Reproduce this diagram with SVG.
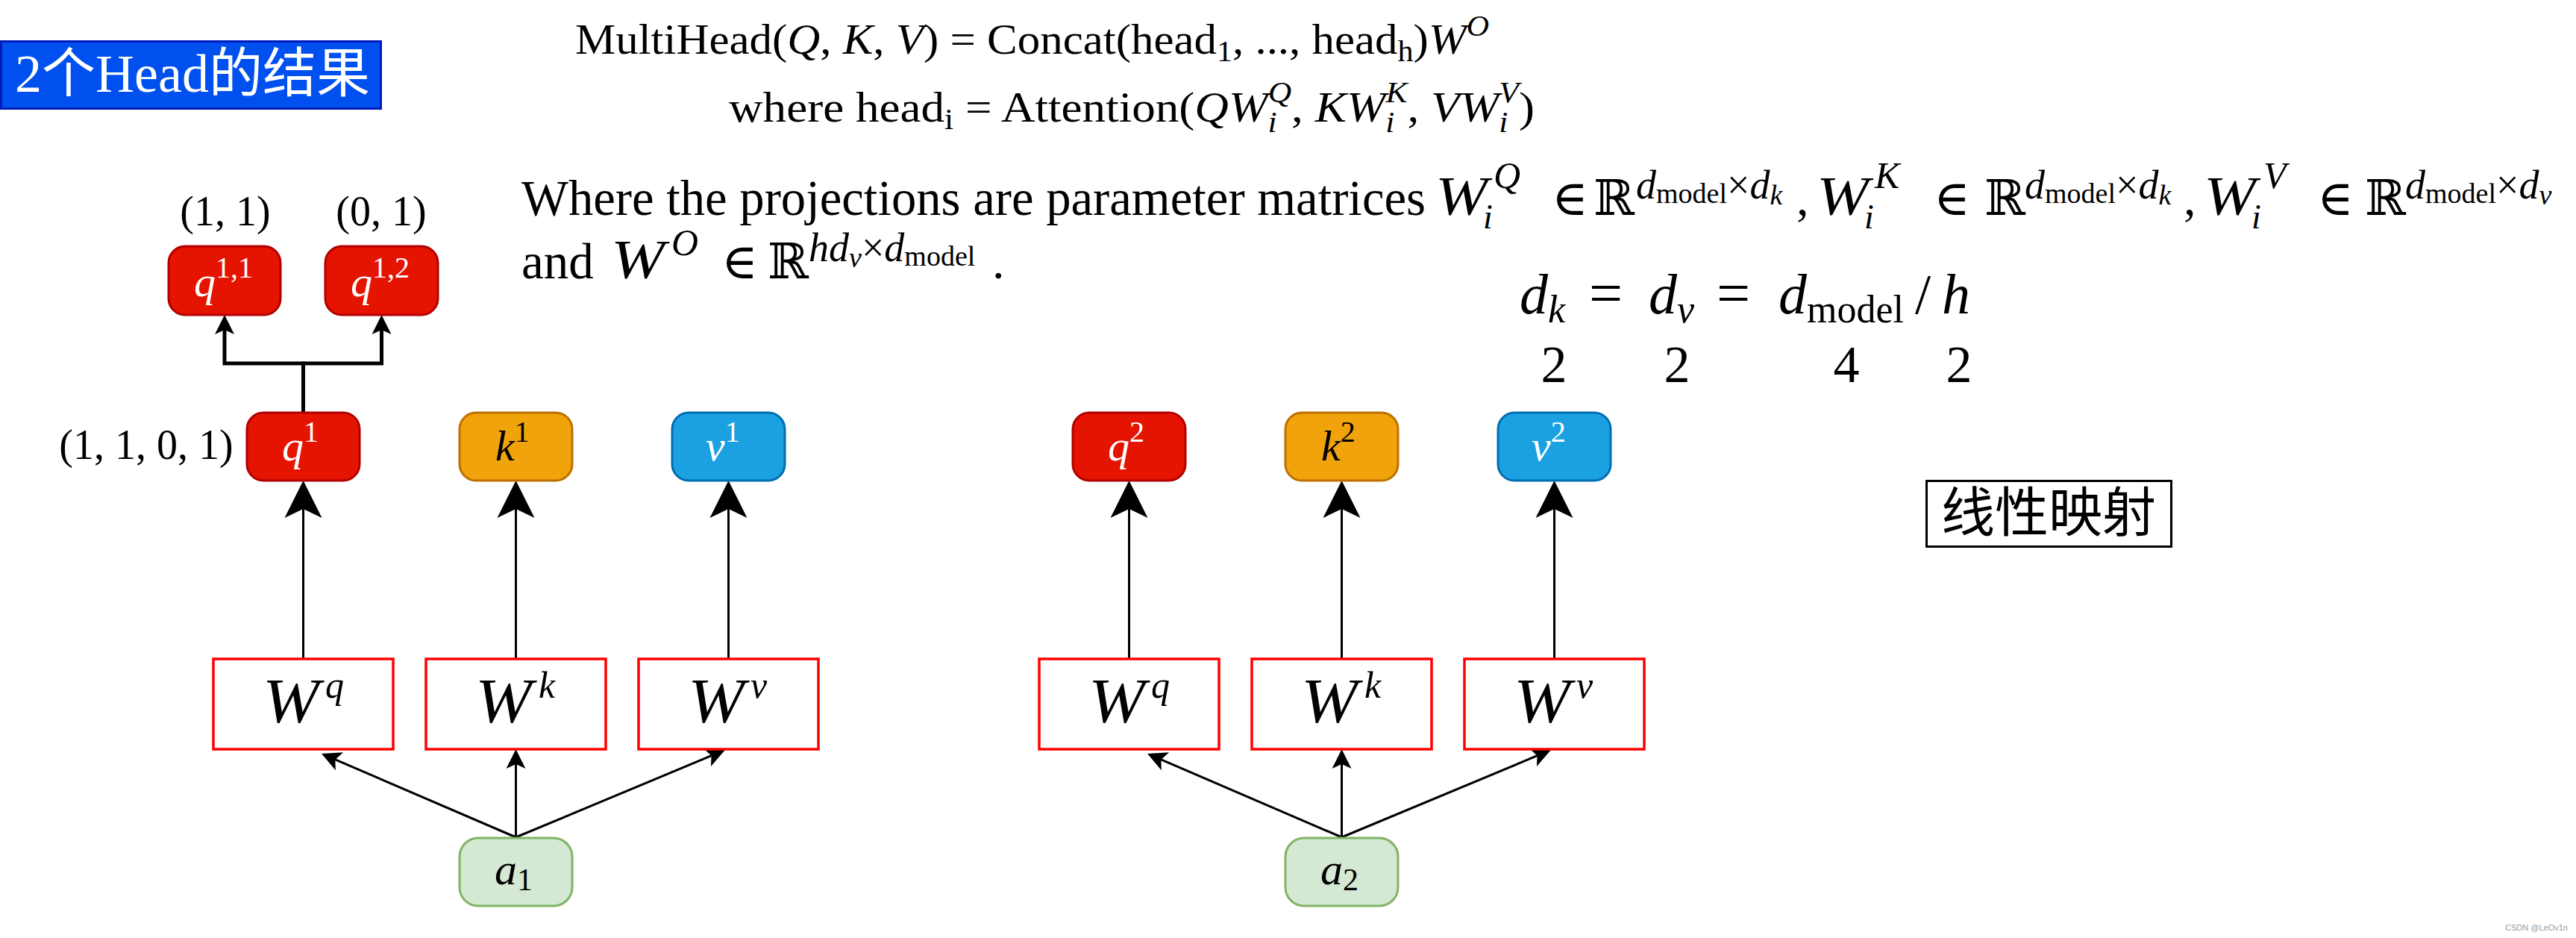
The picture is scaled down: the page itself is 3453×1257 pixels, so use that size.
<svg xmlns="http://www.w3.org/2000/svg" width="3453" height="1257" viewBox="0 0 3453 1257">
<defs>
<style>
.m{font-family:"Liberation Serif","DejaVu Serif",serif;fill:#000}
.it{font-style:italic}
.nq rect{fill:#e51400;stroke:#b20000;stroke-width:3}
.nk rect{fill:#f0a30a;stroke:#bd7000;stroke-width:3}
.nv rect{fill:#1ba1e2;stroke:#006eaf;stroke-width:3}
.na rect{fill:#d5e8d4;stroke:#82b366;stroke-width:3}
.nw rect{fill:#fff;stroke:#ff0000;stroke-width:3.5}
.nw text{font-style:italic}
.wt{fill:#fff}
.e{fill:none;stroke:#000;stroke-width:3}
.eb{fill:none;stroke:#000;stroke-width:5}
.big{marker-end:url(#big)}
.sm{marker-end:url(#small)}
</style>
<marker id="big" markerUnits="userSpaceOnUse" viewBox="-52 -27 54 54" markerWidth="54" markerHeight="54" refX="-38" refY="0" orient="auto"><path d="M0,0 L-50,-25 L-38,0 L-50,25 Z" fill="#000"/></marker>
<marker id="small" markerUnits="userSpaceOnUse" viewBox="-28 -15 30 30" markerWidth="30" markerHeight="30" refX="-20" refY="0" orient="auto"><path d="M0,0 L-26,-13 L-20,0 L-26,13 Z" fill="#000"/></marker>
</defs>
<rect x="0" y="0" width="3453" height="1257" fill="#fff"/>

<g id="title">
<rect x="1.5" y="55.5" width="509" height="90" fill="#0050ef" stroke="#001dbc" stroke-width="3"/>
<text x="20" y="123" font-size="72" fill="#fff" font-family="'Liberation Serif','Noto Sans CJK SC',serif">2个Head的结果</text>
</g>

<g id="formulas" class="m">
<text x="771" y="72" font-size="58" textLength="1225" lengthAdjust="spacingAndGlyphs">MultiHead(<tspan class="it">Q</tspan>, <tspan class="it">K</tspan>, <tspan class="it">V</tspan>) = Concat(head<tspan font-size="40" dy="10">1</tspan><tspan dy="-10">, ..., head</tspan><tspan font-size="40" dy="10">h</tspan><tspan dy="-10">)</tspan><tspan class="it">W</tspan><tspan class="it" font-size="40" dy="-24">O</tspan></text>
<text x="977" y="163" font-size="58" textLength="1080" lengthAdjust="spacingAndGlyphs">where head<tspan font-size="40" dy="10">i</tspan><tspan dy="-10"> = Attention(</tspan><tspan class="it">QW</tspan><tspan class="it" font-size="40" dy="14">i</tspan><tspan class="it" font-size="40" dx="-11" dy="-40">Q</tspan><tspan dy="26">, </tspan><tspan class="it">KW</tspan><tspan class="it" font-size="40" dy="14">i</tspan><tspan class="it" font-size="40" dx="-11" dy="-40">K</tspan><tspan dy="26">, </tspan><tspan class="it">VW</tspan><tspan class="it" font-size="40" dy="14">i</tspan><tspan class="it" font-size="40" dx="-11" dy="-40">V</tspan><tspan dy="26">)</tspan></text>

<text x="699" y="288" font-size="67" textLength="1212" lengthAdjust="spacingAndGlyphs">Where the projections are parameter matrices</text>
<text x="1924" y="288" font-size="74" class="it" textLength="70" lengthAdjust="spacingAndGlyphs">W</text>
<text x="1988" y="306" font-size="46" class="it">i</text>
<text x="2002" y="252" font-size="50" class="it">Q</text>
<text x="2080" y="288" font-size="66">∈</text>
<text x="2136" y="288" font-size="66">ℝ</text>
<text x="2193" y="266" font-size="54"><tspan class="it">d</tspan><tspan font-size="38" dy="6">model</tspan><tspan dy="-6">×</tspan><tspan class="it">d</tspan><tspan class="it" font-size="38" dy="8">k</tspan></text>
<text x="2408" y="288" font-size="66">,</text>
<text x="2435" y="288" font-size="74" class="it" textLength="70" lengthAdjust="spacingAndGlyphs">W</text>
<text x="2499" y="306" font-size="46" class="it">i</text>
<text x="2513" y="252" font-size="50" class="it">K</text>
<text x="2592" y="288" font-size="66">∈</text>
<text x="2660" y="288" font-size="66">ℝ</text>
<text x="2714" y="266" font-size="54"><tspan class="it">d</tspan><tspan font-size="38" dy="6">model</tspan><tspan dy="-6">×</tspan><tspan class="it">d</tspan><tspan class="it" font-size="38" dy="8">k</tspan></text>
<text x="2927" y="288" font-size="66">,</text>
<text x="2954" y="288" font-size="74" class="it" textLength="70" lengthAdjust="spacingAndGlyphs">W</text>
<text x="3018" y="306" font-size="46" class="it">i</text>
<text x="3034" y="252" font-size="50" class="it">V</text>
<text x="3106" y="288" font-size="66">∈</text>
<text x="3170" y="288" font-size="66">ℝ</text>
<text x="3224" y="266" font-size="54"><tspan class="it">d</tspan><tspan font-size="38" dy="6">model</tspan><tspan dy="-6">×</tspan><tspan class="it">d</tspan><tspan class="it" font-size="38" dy="8">v</tspan></text>

<text x="699" y="373" font-size="67">and</text>
<text x="819" y="373" font-size="74" class="it" textLength="72" lengthAdjust="spacingAndGlyphs">W</text>
<text x="900" y="342" font-size="50" class="it">O</text>
<text x="967" y="373" font-size="66">∈</text>
<text x="1029" y="373" font-size="66">ℝ</text>
<text x="1084" y="350" font-size="54"><tspan class="it">hd</tspan><tspan class="it" font-size="38" dy="8">v</tspan><tspan dy="-8">×</tspan><tspan class="it">d</tspan><tspan font-size="38" dy="6">model</tspan></text>
<text x="1330" y="373" font-size="66">.</text>

<text x="2037" y="420" font-size="76"><tspan class="it">d</tspan><tspan class="it" font-size="52" dy="12">k</tspan></text>
<text x="2130" y="420" font-size="80">=</text>
<text x="2210" y="420" font-size="76"><tspan class="it">d</tspan><tspan class="it" font-size="52" dy="12">v</tspan></text>
<text x="2301" y="420" font-size="80">=</text>
<text x="2384" y="420" font-size="76"><tspan class="it">d</tspan><tspan font-size="52" dy="12">model</tspan></text>
<text x="2567" y="420" font-size="76">/</text>
<text x="2603" y="420" font-size="76" class="it">h</text>
<g font-size="70" text-anchor="middle">
<text x="2083" y="512">2</text>
<text x="2248" y="512">2</text>
<text x="2475" y="512">4</text>
<text x="2626" y="512">2</text>
</g>
</g>

<g id="linear-map">
<rect x="2582.5" y="644.5" width="328" height="88" fill="#fff" stroke="#000" stroke-width="3"/>
<text x="2746" y="712" font-size="72" text-anchor="middle" font-family="'Noto Sans CJK SC',sans-serif">线性映射</text>
</g>

<g id="connectors">
<line class="e big" x1="406.5" y1="883" x2="406.5" y2="682"/>
<line class="e big" x1="691.5" y1="883" x2="691.5" y2="682"/>
<line class="e big" x1="976.5" y1="883" x2="976.5" y2="682"/>
<path class="eb sm" d="M406.5,553 V487 H301 V442"/>
<path class="eb sm" d="M406.5,553 V487 H511.5 V442"/>
<line class="e sm" x1="691.5" y1="1122" x2="449.4" y2="1017.9"/>
<line class="e sm" x1="691.5" y1="1122" x2="691.5" y2="1024"/>
<line class="e sm" x1="691.5" y1="1122" x2="953.5" y2="1012.7"/>
<line class="e big" x1="1513.5" y1="883" x2="1513.5" y2="682"/>
<line class="e big" x1="1798.5" y1="883" x2="1798.5" y2="682"/>
<line class="e big" x1="2083.5" y1="883" x2="2083.5" y2="682"/>
<line class="e sm" x1="1798.5" y1="1122" x2="1556.4" y2="1017.9"/>
<line class="e sm" x1="1798.5" y1="1122" x2="1798.5" y2="1024"/>
<line class="e sm" x1="1798.5" y1="1122" x2="2060.5" y2="1012.7"/>
</g>

<g id="label-q11" class="m"><text x="302" y="302" font-size="56" text-anchor="middle">(1, 1)</text></g>
<g id="label-q12" class="m"><text x="511" y="302" font-size="56" text-anchor="middle">(0, 1)</text></g>
<g id="label-q1" class="m"><text x="196" y="615" font-size="56" text-anchor="middle">(1, 1, 0, 1)</text></g>

<g id="q11" class="nq"><rect x="226" y="330" width="150" height="92" rx="22"/><text class="m wt" x="260" y="397" font-size="58"><tspan class="it">q</tspan><tspan font-size="40" dy="-25">1,1</tspan></text></g>
<g id="q12" class="nq"><rect x="436" y="330" width="151" height="92" rx="22"/><text class="m wt" x="470" y="397" font-size="58"><tspan class="it">q</tspan><tspan font-size="40" dy="-25">1,2</tspan></text></g>

<g id="q1" class="nq"><rect x="331" y="553" width="151" height="91" rx="22"/><text class="m wt" x="378" y="617" font-size="58"><tspan class="it">q</tspan><tspan font-size="40" dy="-25">1</tspan></text></g>
<g id="k1" class="nk"><rect x="616" y="553" width="151" height="91" rx="22"/><text class="m" x="664" y="617" font-size="58"><tspan class="it">k</tspan><tspan font-size="40" dy="-25">1</tspan></text></g>
<g id="v1" class="nv"><rect x="901" y="553" width="151" height="91" rx="22"/><text class="m wt" x="946" y="617" font-size="58"><tspan class="it">v</tspan><tspan font-size="40" dy="-25">1</tspan></text></g>

<g id="wq1" class="nw"><rect x="286" y="883" width="241" height="121"/><text class="m" x="352" y="968" font-size="84" textLength="76" lengthAdjust="spacingAndGlyphs">W</text><text class="m" x="436" y="935" font-size="50">q</text></g>
<g id="wk1" class="nw"><rect x="571" y="883" width="241" height="121"/><text class="m" x="637" y="968" font-size="84" textLength="76" lengthAdjust="spacingAndGlyphs">W</text><text class="m" x="722" y="935" font-size="50">k</text></g>
<g id="wv1" class="nw"><rect x="856" y="883" width="241" height="121"/><text class="m" x="922" y="968" font-size="84" textLength="76" lengthAdjust="spacingAndGlyphs">W</text><text class="m" x="1006" y="935" font-size="50">v</text></g>

<g id="a1" class="na"><rect x="616" y="1123" width="151" height="91" rx="25"/><text class="m" x="663" y="1185" font-size="60"><tspan class="it">a</tspan><tspan font-size="42" dy="8">1</tspan></text></g>

<g id="q2" class="nq"><rect x="1438" y="553" width="151" height="91" rx="22"/><text class="m wt" x="1485" y="617" font-size="58"><tspan class="it">q</tspan><tspan font-size="40" dy="-25">2</tspan></text></g>
<g id="k2" class="nk"><rect x="1723" y="553" width="151" height="91" rx="22"/><text class="m" x="1771" y="617" font-size="58"><tspan class="it">k</tspan><tspan font-size="40" dy="-25">2</tspan></text></g>
<g id="v2" class="nv"><rect x="2008" y="553" width="151" height="91" rx="22"/><text class="m wt" x="2053" y="617" font-size="58"><tspan class="it">v</tspan><tspan font-size="40" dy="-25">2</tspan></text></g>

<g id="wq2" class="nw"><rect x="1393" y="883" width="241" height="121"/><text class="m" x="1459" y="968" font-size="84" textLength="76" lengthAdjust="spacingAndGlyphs">W</text><text class="m" x="1543" y="935" font-size="50">q</text></g>
<g id="wk2" class="nw"><rect x="1678" y="883" width="241" height="121"/><text class="m" x="1744" y="968" font-size="84" textLength="76" lengthAdjust="spacingAndGlyphs">W</text><text class="m" x="1829" y="935" font-size="50">k</text></g>
<g id="wv2" class="nw"><rect x="1963" y="883" width="241" height="121"/><text class="m" x="2029" y="968" font-size="84" textLength="76" lengthAdjust="spacingAndGlyphs">W</text><text class="m" x="2113" y="935" font-size="50">v</text></g>

<g id="a2" class="na"><rect x="1723" y="1123" width="151" height="91" rx="25"/><text class="m" x="1770" y="1185" font-size="60"><tspan class="it">a</tspan><tspan font-size="42" dy="8">2</tspan></text></g>

<text x="3358" y="1247" font-size="11" fill="#999" font-family="'Liberation Sans',sans-serif">CSDN @LeOv1n</text>
</svg>
